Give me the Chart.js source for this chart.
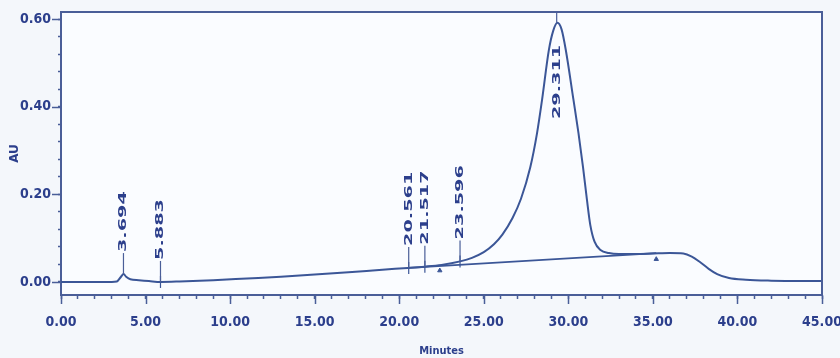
<!DOCTYPE html>
<html>
<head>
<meta charset="utf-8">
<script src="https://cdn.jsdelivr.net/npm/chart.js@4.4.1/dist/chart.umd.min.js"></script>
<style>
  html, body { margin: 0; padding: 0; background: #f4f7fb; }
  #wrap { width: 840px; height: 358px; }
</style>
</head>
<body>
<div id="wrap"><canvas id="chart" width="840" height="358"></canvas></div>
<script>
// --- DATOS ---
const retentionTimes = [0, 1, 2, 3, 3.3, 3.55, 3.7, 3.85, 4.1, 4.6, 5.2, 5.9, 7, 9, 11, 13, 15, 17, 19,
  20.5, 21.5, 22.5, 23.6, 24.3, 25, 25.6, 26.1, 26.7, 27.2, 27.75, 28.15, 28.45, 28.85, 29.1, 29.35, 29.6,
  29.85, 30.3, 30.6, 30.87, 31.1, 31.3, 31.55, 31.9, 32.4, 33, 34, 35, 36, 36.8, 37.3, 37.8, 38.3, 38.8, 39.5,
  40.5, 42, 45];
const absorbance = [0.000, 0.000, 0.000, 0.000, 0.001, 0.012, 0.018, 0.012, 0.006, 0.004, 0.002, 0.000,
  0.001, 0.004, 0.008, 0.012, 0.017, 0.022, 0.028,
  0.032, 0.035, 0.039, 0.047, 0.055, 0.068, 0.086, 0.108, 0.146, 0.190, 0.262, 0.340, 0.417, 0.530, 0.573, 0.592, 0.577,
  0.530, 0.417, 0.340, 0.262, 0.188, 0.130, 0.092, 0.073, 0.066, 0.064, 0.064, 0.065, 0.066, 0.065, 0.058, 0.045, 0.030, 0.018, 0.009,
  0.005, 0.003, 0.002];

// línea base de integración del pico principal
const baselineTimes = [20.56, 35.2];
const baselineValues = [0.032, 0.066];

// etiquetas de picos
const peakTimes = [3.694, 5.883, 20.561, 21.517, 23.596, 29.311];
const peakHeights = [0.018, 0.000, 0.032, 0.035, 0.047, 0.592];
const peakLabels = ['3.694', '5.883', '20.561', '21.517', '23.596', '29.311'];

// marcas de eventos (inicio/fin de integración)
const eventTimes = [5.883, 20.561, 21.517, 23.596];
const eventValues = [0.000, 0.032, 0.035, 0.047];
const triangleTimes = [22.4, 35.2];
const triangleValues = [0.026, 0.052];

// ejes
const xMajorTicks = [0, 5, 10, 15, 20, 25, 30, 35, 40, 45];
const xTickLabels = ['0.00', '5.00', '10.00', '15.00', '20.00', '25.00', '30.00', '35.00', '40.00', '45.00'];
const yMajorTicks = [0, 0.2, 0.4, 0.6];
const yTickLabels = ['0.00', '0.20', '0.40', '0.60'];

// --- ESTILOS ---
const lineColor = '#3b5697';
const axisColor = '#4a5e98';
const textColor = '#2c3f8c';
const tickFont = { family: '"Liberation Sans Narrow", "DejaVu Sans Condensed", sans-serif', size: 14, weight: 'bold' };

const findIndex = (list, v) => list.findIndex(m => Math.abs(m - v) < 1e-9);

/**
 * Marco, ticks mayores y etiquetas de picos.
 */
const decorPlugin = {
  id: 'decor',
  beforeDraw(chart) {
    const { ctx, chartArea: a } = chart;
    ctx.save();
    ctx.fillStyle = '#fafcff';
    ctx.fillRect(a.left, a.top, a.right - a.left, a.bottom - a.top);
    ctx.restore();
  },
  afterDraw(chart) {
    const { ctx, chartArea: a, scales: { x, y } } = chart;
    ctx.save();
    ctx.strokeStyle = axisColor;
    ctx.lineWidth = 2;
    ctx.beginPath();
    ctx.moveTo(a.left, a.top);
    ctx.lineTo(a.right, a.top);
    ctx.lineTo(a.right, a.bottom);
    ctx.stroke();

    // ticks mayores
    ctx.lineWidth = 1.5;
    xMajorTicks.forEach(v => {
      const px = Math.round(x.getPixelForValue(v)) + 0.5;
      ctx.beginPath();
      ctx.moveTo(px, a.bottom);
      ctx.lineTo(px, a.bottom + 9);
      ctx.stroke();
    });
    yMajorTicks.forEach(v => {
      const py = Math.round(y.getPixelForValue(v)) + 0.5;
      ctx.beginPath();
      ctx.moveTo(a.left - 9, py);
      ctx.lineTo(a.left, py);
      ctx.stroke();
    });

    // etiquetas de picos (texto vertical)
    const stretch = 1.75;
    ctx.font = 'bold 11px "DejaVu Sans", sans-serif';
    ctx.fillStyle = textColor;
    ctx.textAlign = 'left';
    ctx.textBaseline = 'middle';
    ctx.lineWidth = 1.2;
    peakTimes.forEach((t, i) => {
      const px = x.getPixelForValue(t);
      const py = y.getPixelForValue(peakHeights[i]);
      const w = ctx.measureText(peakLabels[i]).width * stretch;
      let textStart;
      ctx.beginPath();
      if (py - 22 - w < a.top) {
        ctx.moveTo(px, a.top);
        ctx.lineTo(px, py);
        textStart = py + 22 + w;
      } else {
        ctx.moveTo(px, py);
        ctx.lineTo(px, py - 21);
        textStart = py - 22;
      }
      ctx.stroke();
      ctx.save();
      ctx.translate(px, textStart);
      ctx.rotate(-Math.PI / 2);
      ctx.scale(stretch, 1);
      ctx.fillText(peakLabels[i], 0, 0);
      ctx.restore();
    });
    ctx.restore();
  }
};

const toPoints = (xs, ys) => xs.map((t, i) => ({ x: t, y: ys[i] }));

const chart = new Chart(document.querySelector('#chart'), {
  type: 'line',
  data: {
    datasets: [
      {
        data: toPoints(retentionTimes, absorbance),
        borderColor: lineColor,
        borderWidth: 2,
        pointRadius: 0,
        cubicInterpolationMode: 'monotone',
        fill: false
      },
      {
        data: toPoints(baselineTimes, baselineValues),
        borderColor: lineColor,
        borderWidth: 1.8,
        pointRadius: 0,
        fill: false
      },
      {
        data: toPoints(eventTimes, eventValues),
        showLine: false,
        pointStyle: 'line',
        rotation: 90,
        pointRadius: 6,
        borderColor: lineColor,
        borderWidth: 1.2
      },
      {
        data: toPoints(triangleTimes, triangleValues),
        showLine: false,
        pointStyle: 'triangle',
        pointRadius: 2.5,
        backgroundColor: lineColor,
        borderColor: lineColor,
        borderWidth: 1
      }
    ]
  },
  options: {
    responsive: false,
    animation: false,
    layout: { padding: { top: 12, right: 18, left: 0, bottom: 0 } },
    plugins: { legend: { display: false }, tooltip: { enabled: false } },
    scales: {
      x: {
        type: 'linear',
        min: 0,
        max: 45,
        afterFit: (s) => {
          s.height = 63;
          s.paddingLeft = 0;
          s.paddingRight = 0;
        },
        afterBuildTicks: (s) => {
          s.ticks = Array.from({ length: 46 }, (_, i) => ({ value: i }));
        },
        grid: { drawOnChartArea: false, drawTicks: true, tickLength: 4, tickWidth: 1.5, tickColor: axisColor },
        border: { color: axisColor, width: 2 },
        ticks: {
          autoSkip: false,
          maxRotation: 0,
          padding: 15,
          color: textColor,
          font: tickFont,
          callback: (v) => {
            const i = findIndex(xMajorTicks, v);
            return i >= 0 ? xTickLabels[i] : '';
          }
        },
        title: {
          display: true,
          text: 'Minutes',
          color: textColor,
          font: { family: '"Liberation Sans Narrow", "DejaVu Sans Condensed", sans-serif', size: 11, weight: 'bold' },
          padding: { top: 0, bottom: 0 }
        }
      },
      y: {
        type: 'linear',
        min: -0.0298,
        max: 0.6167,
        afterFit: (s) => {
          s.width = 61;
          s.paddingTop = 0;
          s.paddingBottom = 0;
        },
        afterBuildTicks: (s) => {
          s.ticks = Array.from({ length: 16 }, (_, i) => ({ value: Math.round(i * 4) / 100 }));
        },
        grid: { drawOnChartArea: false, drawTicks: true, tickLength: 3, tickWidth: 1.5, tickColor: axisColor },
        border: { color: axisColor, width: 2 },
        ticks: {
          autoSkip: false,
          padding: 7,
          color: textColor,
          font: tickFont,
          callback: (v) => {
            const i = findIndex(yMajorTicks, v);
            return i >= 0 ? yTickLabels[i] : '';
          }
        },
        title: {
          display: true,
          text: 'AU',
          color: textColor,
          font: { family: '"DejaVu Sans", sans-serif', size: 12, weight: 'bold' },
          padding: { top: 8, bottom: 0 }
        }
      }
    }
  },
  plugins: [decorPlugin]
});
</script>
</body>
</html>
